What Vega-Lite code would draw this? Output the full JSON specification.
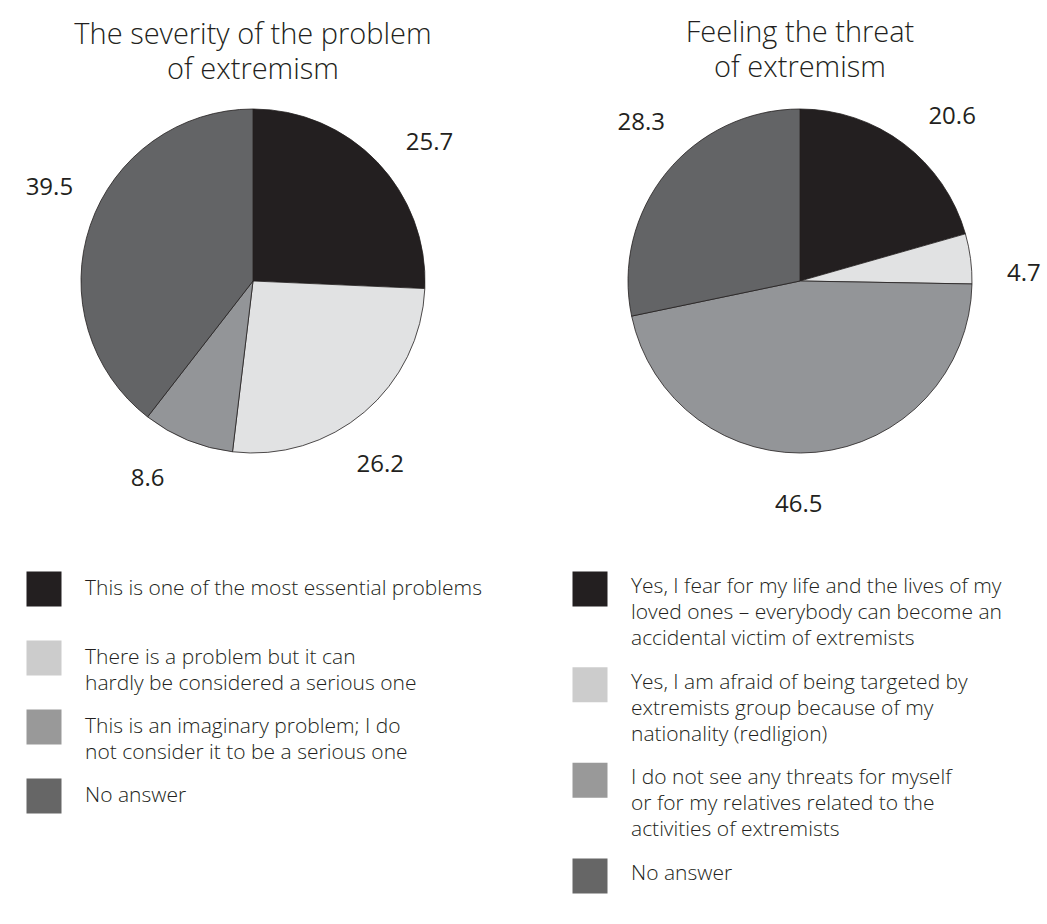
{
  "$schema": "https://vega.github.io/schema/vega-lite/v6.json",
  "padding": {"left": 0, "top": 18, "right": 0, "bottom": 0},
  "background": "white",
  "spacing": 47,
  "config": {
    "view": {"stroke": null},
    "font": "Open Sans",
    "title": {"font": "Open Sans", "fontSize": 29, "fontWeight": 300, "lineHeight": 35, "color": "#231f20", "offset": 22, "anchor": "middle"}
  },
  "datasets": {
    "severity": [
      {"order": 1, "value": 25.7, "answer": "This is one of the most essential problems"},
      {"order": 2, "value": 26.2, "answer": "There is a problem but it can\nhardly be considered a serious one"},
      {"order": 3, "value": 8.6, "answer": "This is an imaginary problem; I do\nnot consider it to be a serious one"},
      {"order": 4, "value": 39.5, "answer": "No answer"}
    ],
    "threat": [
      {"order": 1, "value": 20.6, "answer": "Yes, I fear for my life and the lives of my\nloved ones – everybody can become an\naccidental victim of extremists"},
      {"order": 2, "value": 4.7, "answer": "Yes, I am afraid of being targeted by\nextremists group because of my\nnationality (redligion)"},
      {"order": 3, "value": 46.5, "answer": "I do not see any threats for myself\nor for my relatives related to the\nactivities of extremists"},
      {"order": 4, "value": 28.3, "answer": "No answer"}
    ]
  },
  "resolve": {"scale": {"color": "independent", "theta": "independent"}},
  "hconcat": [
    {
      "bounds": "flush",
      "spacing": 136,
      "resolve": {"scale": {"color": "independent", "theta": "independent"}},
      "vconcat": [
        {
          "width": 506,
          "height": 344,
          "title": {"text": ["The severity of the problem", "of extremism"]},
          "data": {"name": "severity"},
          "encoding": {
            "theta": {"field": "value", "type": "quantitative", "stack": true},
            "order": {"field": "order", "type": "quantitative", "sort": "ascending"}
          },
          "layer": [
            {
              "mark": {"type": "arc", "stroke": "#231f20", "strokeWidth": 0.8},
              "encoding": {
                "color": {"field": "order", "type": "ordinal", "scale": {"domain": [1, 2, 3, 4], "range": ["#231f20", "#e1e2e3", "#939598", "#636466"]}, "legend": null}
              }
            },
            {
              "mark": {"type": "text", "radius": 224, "thetaOffset": 0.1, "fontSize": 24, "fontWeight": 400, "fill": "#231f20"},
              "encoding": {
                "detail": {"field": "order", "type": "ordinal"},
                "text": {"field": "value", "type": "quantitative", "format": ".1f"}
              }
            }
          ]
        },
        {
          "width": 88,
          "height": 207,
          "data": {"name": "severity"},
          "encoding": {
            "y": {"field": "order", "type": "ordinal", "scale": {"type": "point", "padding": 0}, "axis": null}
          },
          "layer": [
            {
              "mark": {"type": "point", "shape": "square", "size": 1225, "filled": true, "opacity": 1},
              "encoding": {
                "color": {"field": "order", "type": "ordinal", "scale": {"domain": [1, 2, 3, 4], "range": ["#231f20", "#cccccc", "#999999", "#666666"]}, "legend": null}
              }
            },
            {
              "mark": {"type": "text", "align": "left", "baseline": "middle", "dx": 41, "lineBreak": "\n", "fontSize": 21, "fontWeight": 300, "lineHeight": 26, "fill": "#231f20"},
              "encoding": {"text": {"field": "answer", "type": "nominal"}}
            }
          ]
        }
      ]
    },
    {
      "bounds": "flush",
      "spacing": 136,
      "resolve": {"scale": {"color": "independent", "theta": "independent"}},
      "vconcat": [
        {
          "width": 494,
          "height": 344,
          "title": {"text": ["Feeling the threat", "of extremism"]},
          "data": {"name": "threat"},
          "encoding": {
            "theta": {"field": "value", "type": "quantitative", "stack": true},
            "order": {"field": "order", "type": "quantitative", "sort": "ascending"}
          },
          "layer": [
            {
              "mark": {"type": "arc", "stroke": "#231f20", "strokeWidth": 0.8},
              "encoding": {
                "color": {"field": "order", "type": "ordinal", "scale": {"domain": [1, 2, 3, 4], "range": ["#231f20", "#e1e2e3", "#939598", "#636466"]}, "legend": null}
              }
            },
            {
              "mark": {"type": "text", "radius": 224, "thetaOffset": 0.1, "fontSize": 24, "fontWeight": 400, "fill": "#231f20"},
              "encoding": {
                "detail": {"field": "order", "type": "ordinal"},
                "text": {"field": "value", "type": "quantitative", "format": ".1f"}
              }
            }
          ]
        },
        {
          "width": 74,
          "height": 287,
          "data": {"name": "threat"},
          "encoding": {
            "y": {"field": "order", "type": "ordinal", "scale": {"type": "point", "padding": 0}, "axis": null}
          },
          "layer": [
            {
              "mark": {"type": "point", "shape": "square", "size": 1225, "filled": true, "opacity": 1},
              "encoding": {
                "color": {"field": "order", "type": "ordinal", "scale": {"domain": [1, 2, 3, 4], "range": ["#231f20", "#cccccc", "#999999", "#666666"]}, "legend": null}
              }
            },
            {
              "mark": {"type": "text", "align": "left", "baseline": "top", "dx": 41, "dy": -13, "lineBreak": "\n", "fontSize": 21, "fontWeight": 300, "lineHeight": 26, "fill": "#231f20"},
              "encoding": {"text": {"field": "answer", "type": "nominal"}}
            }
          ]
        }
      ]
    }
  ]
}
